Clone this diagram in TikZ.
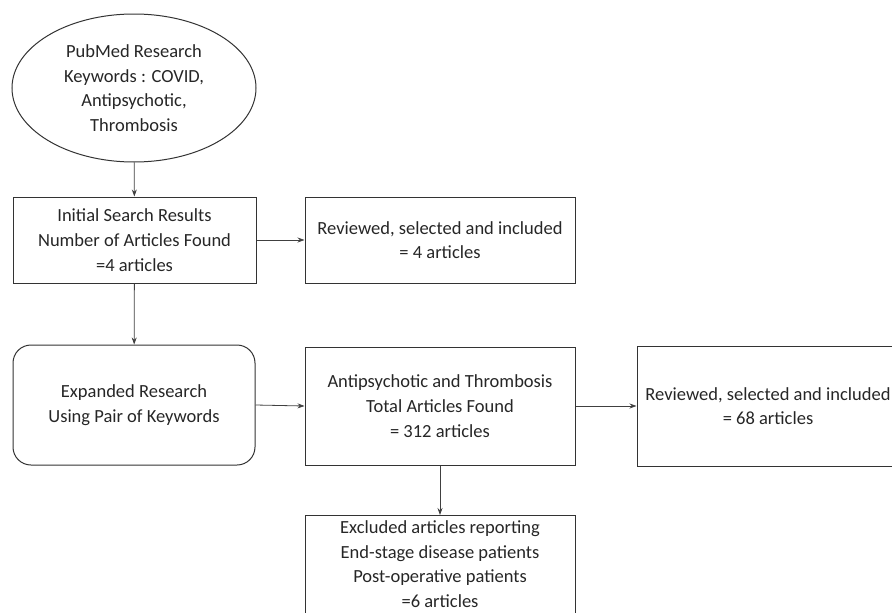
\documentclass[tikz,border=0pt]{standalone}
\usepackage{fontspec}
\setmainfont{Carlito}
\usetikzlibrary{shapes.geometric,arrows.meta}
\begin{document}
\begin{tikzpicture}[x=1pt,y=-1pt,
  every node/.style={font=\fontsize{18.5}{24.7}\selectfont, text=black!85, align=center},
  boxst/.style={draw=black!80, line width=1pt, rectangle, inner sep=0pt},
  conn/.style={draw=black!75, line width=0.8pt, -{Stealth[length=7pt,width=5pt]}}]
\useasboundingbox (0,0) rectangle (892,613);
\node[draw=black!80, line width=1pt, ellipse, minimum width=244pt, minimum height=148pt, inner sep=0pt] (e) at (134,88) {PubMed Research\\Keywords : COVID,\\Antipsychotic,\\Thrombosis};
\node[boxst, minimum width=243pt, minimum height=86pt] (b1) at (134.5,240) {Initial Search Results\\Number of Articles Found\\=4 articles};
\node[boxst, minimum width=270pt, minimum height=86pt] (b2) at (440,240) {Reviewed, selected and included\\= 4 articles};
\node[boxst, rounded corners=18pt, minimum width=242pt, minimum height=120pt] (r) at (134,405) {Expanded Research\\Using Pair of Keywords};
\node[boxst, minimum width=270pt, minimum height=118pt] (a) at (440,406) {Antipsychotic and Thrombosis\\Total Articles Found\\= 312 articles};
\node[boxst, minimum width=262pt, minimum height=120pt] (c) at (768,406) {Reviewed, selected and included\\= 68 articles};
\node[boxst, minimum width=270pt, minimum height=110pt, anchor=north] (x) at (440,515) {};
\node[anchor=north] (xt) at (440,517) {Excluded articles reporting\\End-stage disease patients\\Post-operative patients\\=6 articles};
\draw[conn] (e) -- (b1);
\draw[conn] (b1) -- (b2);
\draw[conn] (b1) -- (r);
\draw[conn] (r.east) -- (a.west);
\draw[conn] (a) -- (c);
\draw[conn] (a) -- (x);
\end{tikzpicture}
\end{document}
